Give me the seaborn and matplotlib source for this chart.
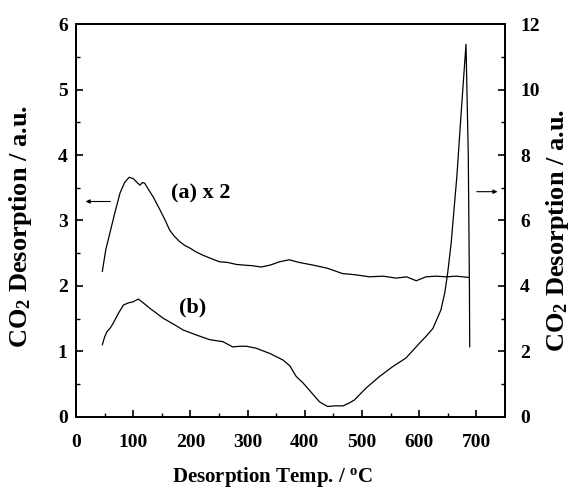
import matplotlib
matplotlib.use("Agg")
import matplotlib.pyplot as plt
import seaborn as sns
import pandas as pd

# curve (a), scaled x2, read against the left axis
a_temp = [46, 52, 59, 68, 77, 85, 93, 100, 108, 112, 116, 120, 127, 135, 141,
          147, 155, 164, 172, 181, 190, 199, 210, 222, 236, 251, 265, 280, 292,
          308, 324, 340, 356, 373, 390, 414, 440, 466, 490, 513, 537, 560, 578,
          595, 612, 630, 647, 665, 688]
a_val = [2.22, 2.55, 2.80, 3.12, 3.42, 3.58, 3.66, 3.64, 3.57, 3.54, 3.58, 3.57,
         3.47, 3.36, 3.26, 3.16, 3.02, 2.85, 2.76, 2.68, 2.62, 2.58, 2.52, 2.47,
         2.42, 2.37, 2.36, 2.33, 2.32, 2.31, 2.29, 2.32, 2.37, 2.40, 2.36, 2.32,
         2.27, 2.19, 2.17, 2.14, 2.15, 2.12, 2.14, 2.08, 2.14, 2.15, 2.14, 2.15,
         2.13]

# curve (b), read against the right axis
b_temp = [46, 50, 54, 60, 65, 74, 83, 91, 100, 109, 118, 129, 140, 152, 170,
          187, 199, 211, 234, 257, 274, 287, 298, 315, 339, 362, 374, 385, 397,
          408, 418, 426, 440, 453, 467, 477, 487, 497, 507, 519, 531, 554, 577,
          600, 612, 624, 638, 645, 650, 656, 661, 666, 674, 682, 686, 688, 688.5]
b_val = [2.20, 2.44, 2.60, 2.72, 2.86, 3.16, 3.42, 3.48, 3.52, 3.60, 3.48, 3.32,
         3.18, 3.02, 2.84, 2.66, 2.58, 2.50, 2.36, 2.30, 2.14, 2.16, 2.16, 2.10,
         1.94, 1.74, 1.56, 1.24, 1.04, 0.82, 0.62, 0.46, 0.32, 0.34, 0.34, 0.42,
         0.52, 0.70, 0.88, 1.06, 1.24, 1.54, 1.80, 2.24, 2.46, 2.70, 3.26, 3.80,
         4.40, 5.30, 6.32, 7.34, 9.40, 11.38, 8.00, 4.00, 2.14]

x_ticks = [0, 100, 200, 300, 400, 500, 600, 700]
left_ticks = [0, 1, 2, 3, 4, 5, 6]
right_ticks = [0, 2, 4, 6, 8, 10, 12]

df_a = pd.DataFrame({"temp": a_temp, "val": a_val})
df_b = pd.DataFrame({"temp": b_temp, "val": b_val})

sns.set_theme(style="ticks")
plt.rcParams["font.family"] = ["Liberation Serif", "DejaVu Serif"]
plt.rcParams["font.weight"] = "bold"
plt.rcParams["axes.labelweight"] = "bold"
plt.rcParams["text.color"] = "black"
plt.rcParams["axes.labelcolor"] = "black"
plt.rcParams["xtick.direction"] = "in"
plt.rcParams["ytick.direction"] = "in"
plt.rcParams["mathtext.fontset"] = "custom"
plt.rcParams["mathtext.rm"] = "Liberation Serif:bold"
plt.rcParams["mathtext.bf"] = "Liberation Serif:bold"
plt.rcParams["mathtext.it"] = "Liberation Serif:bold"

fig = plt.figure(figsize=(5.77, 4.96), dpi=100)
ax = fig.add_axes([0.1317, 0.1593, 0.7433, 0.7923])
ax2 = ax.twinx()

sns.lineplot(data=df_a, x="temp", y="val", ax=ax, color="black", lw=0.9,
             sort=False, estimator=None)
sns.lineplot(data=df_b, x="temp", y="val", ax=ax2, color="black", lw=0.9,
             sort=False, estimator=None)

ax.set_xlim(0, 750)
ax.set_ylim(0, 6)
ax2.set_ylim(0, 12)
ax.set_xticks(x_ticks)
ax.set_xticks(range(50, 750, 100), minor=True)
ax.set_yticks(left_ticks)
ax.set_yticks([0.5, 1.5, 2.5, 3.5, 4.5, 5.5], minor=True)
ax2.set_yticks(right_ticks)
ax2.set_yticks([1, 3, 5, 7, 9, 11], minor=True)

for a in (ax, ax2):
    for s in a.spines.values():
        s.set_linewidth(1.3)
        s.set_color("black")
    a.tick_params(which="major", length=5, width=1.2, labelsize=14,
                  colors="black", pad=6)
    a.tick_params(which="minor", length=3, width=1.0, colors="black")
ax.tick_params(axis="x", pad=12)
ax2.tick_params(axis="y", pad=11)
ax.tick_params(top=False, which="both")

ax.set_xlabel("Desorption Temp. / $^{\\rm o}$C", fontsize=15)
ax.xaxis.set_label_coords(0.459, -0.122)
ax.set_ylabel("CO$_{\\rm 2}$ Desorption / a.u.", fontsize=19)
ax.yaxis.set_label_coords(-0.097, 0.486)
ax2.set_ylabel("CO$_{\\rm 2}$ Desorption / a.u.", fontsize=19)
ax2.yaxis.set_label_coords(1.092, 0.475)

ax.text(167, 3.42, "(a) x 2", fontsize=16, fontweight="bold",
        va="center", ha="left")
ax.text(181, 1.67, "(b)", fontsize=16, fontweight="bold",
        va="center", ha="left")
ax.annotate("", xy=(12, 3.29), xytext=(65, 3.29),
            arrowprops=dict(arrowstyle="-|>", color="black", lw=0.8,
                            mutation_scale=6))
ax.annotate("", xy=(742, 3.44), xytext=(696, 3.44),
            arrowprops=dict(arrowstyle="-|>", color="black", lw=0.8,
                            mutation_scale=6))

fig.savefig("out.png", dpi=100)
